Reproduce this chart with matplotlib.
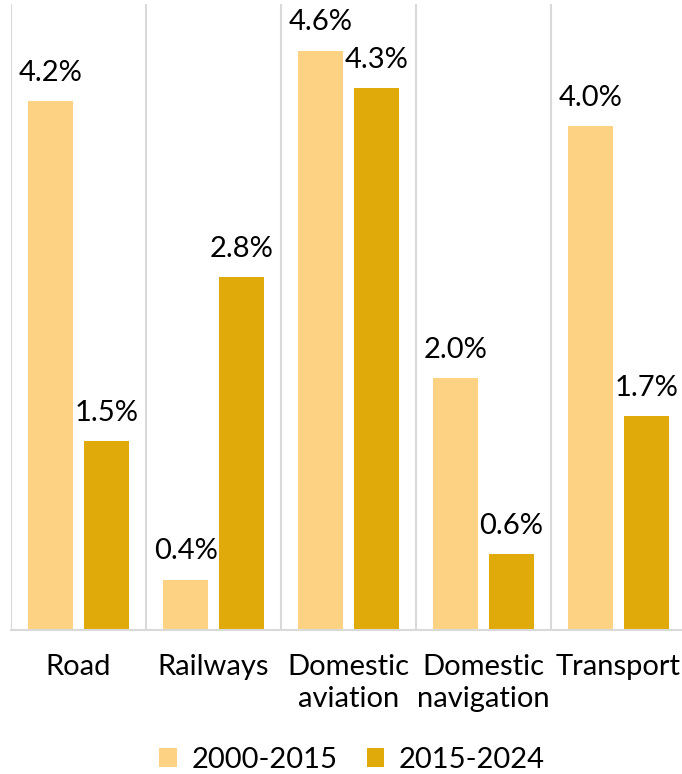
import matplotlib.pyplot as plt
import numpy as np

# average annual growth by mode
categories = ["Road", "Railways", "Domestic\naviation", "Domestic\nnavigation", "Transport"]
growth_2000_2015 = [4.2, 0.4, 4.6, 2.0, 4.0]
growth_2015_2024 = [1.5, 2.8, 4.3, 0.6, 1.7]
series_names = ["2000-2015", "2015-2024"]

LIGHT = "#FDD383"
DARK = "#E0AA0B"
GRID = "#D9D9D9"

plt.rcParams["font.family"] = ["Lato", "DejaVu Sans"]

fig = plt.figure(figsize=(6.82, 7.74), dpi=100)
ax = fig.add_axes([11 / 682, 144 / 774, 675 / 682, 626 / 774])

x = np.arange(len(categories))
w = 0.333
off = 0.205
b1 = ax.bar(x - off, growth_2000_2015, w, color=LIGHT, label=series_names[0], zorder=2)
b2 = ax.bar(x + off, growth_2015_2024, w, color=DARK, label=series_names[1], zorder=2)

for bars, vals in ((b1, growth_2000_2015), (b2, growth_2015_2024)):
    for rect, v in zip(bars, vals):
        ax.annotate(f"{v:.1f}%", (rect.get_x() + rect.get_width() / 2, v),
                    xytext=(0, 11), textcoords="offset points",
                    ha="center", va="bottom", fontsize=21, color="black")

ax.set_xlim(-0.5, len(categories) - 0.5)
ax.set_ylim(0, 4.97)

# separators between groups
for b in np.arange(-0.5, len(categories) + 0.5):
    ax.axvline(b, color=GRID, lw=1.5, zorder=1)

for side in ("top", "right", "left"):
    ax.spines[side].set_visible(False)
ax.spines["bottom"].set_color(GRID)
ax.spines["bottom"].set_linewidth(1.5)

ax.set_yticks([])
ax.set_xticks(x)
ax.set_xticklabels(categories, fontsize=21, linespacing=1.3)
ax.tick_params(axis="x", length=0, pad=17)

fig.legend(handles=[b1, b2], loc="center", bbox_to_anchor=(352 / 682, 1 - 760 / 774),
           ncol=2, frameon=False, fontsize=21, handlelength=0.6, handleheight=0.6,
           handletextpad=0.5, columnspacing=1.0)

fig.savefig("out.png", dpi=100)
